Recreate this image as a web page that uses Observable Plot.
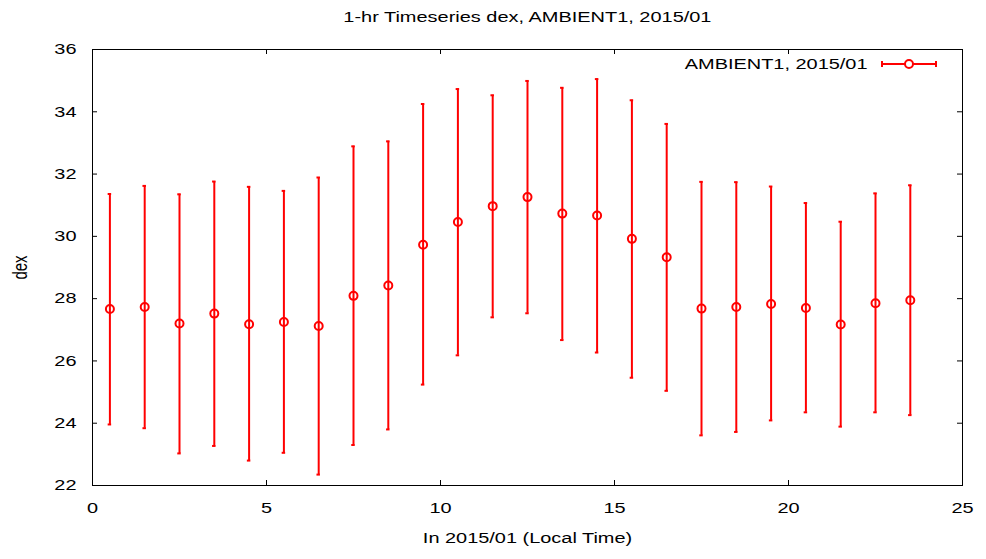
<!DOCTYPE html>
<html>
<head>
<meta charset="utf-8">
<script src="https://cdn.jsdelivr.net/npm/d3@7"></script>
<script src="https://cdn.jsdelivr.net/npm/@observablehq/plot@0.6"></script>
<style>
  html, body { margin: 0; padding: 0; background: #fff; }
  #title { height: 36px; line-height: 34px; padding-left: 92px; padding-right: 24px; text-align: center;
           font-family: "Liberation Sans", Arial, sans-serif; font-size: 15px; color: #000; box-sizing: border-box; width: 986px; }
  #title span { display: inline-block; transform: scaleX(1.33); transform-origin: center; }
</style>
</head>
<body>
<div id="title"><span>1-hr Timeseries dex, AMBIENT1, 2015/01</span></div>
<div id="chart"></div>
<script>
const hours = [0.5,1.5,2.5,3.5,4.5,5.5,6.5,7.5,8.5,9.5,10.5,11.5,12.5,13.5,14.5,15.5,16.5,17.5,18.5,19.5,20.5,21.5,22.5,23.5];
const means = [27.67,27.73,27.20,27.52,27.18,27.25,27.12,28.09,28.42,29.73,30.46,30.97,31.26,30.73,30.67,29.92,29.33,27.68,27.73,27.83,27.70,27.17,27.85,27.95];
const highs = [31.36,31.62,31.35,31.76,31.59,31.46,31.89,32.89,33.05,34.25,34.73,34.53,34.99,34.77,35.05,34.37,33.61,31.75,31.74,31.60,31.07,30.47,31.38,31.64];
const lows  = [23.96,23.84,23.03,23.27,22.80,23.05,22.35,23.30,23.80,25.24,26.18,27.40,27.53,26.67,26.27,25.46,25.04,23.61,23.72,24.09,24.35,23.89,24.35,24.26];
const xTicks = [0,5,10,15,20,25];
const yTicks = [22,24,26,28,30,32,34,36];
const seriesName = "AMBIENT1, 2015/01";
const xLabel = "In 2015/01 (Local Time)";
const yLabel = "dex";

const data = hours.map((h,i) => ({h, m: means[i], hi: highs[i], lo: lows[i]}));
const red = "#ff0000";
const W = 986, H = 559 - 36;
const mt = 13, mb = 74, ml = 92, mr = 24;
const ph = H - mt - mb, pw = W - ml - mr;
const capHalf = 0.05;
const FS = 15, STRETCH = 1.33;

const chart = Plot.plot({
  width: W, height: H,
  marginTop: mt, marginBottom: mb, marginLeft: ml, marginRight: mr,
  style: {fontFamily: "'Liberation Sans', Arial, sans-serif", fontSize: FS + "px", color: "#000", background: "#fff"},
  x: {domain: [0, 25]},
  y: {domain: [22, 36]},
  marks: [
    Plot.frame({stroke: "#000", strokeWidth: 1}),
    // inward ticks (bottom/top/left/right)
    Plot.tickX(xTicks, {x: d => d, insetTop: ph - 5, stroke: "#000"}),
    Plot.tickX(xTicks, {x: d => d, insetBottom: ph - 5, stroke: "#000"}),
    Plot.tickY(yTicks, {y: d => d, insetRight: pw - 5, stroke: "#000"}),
    Plot.tickY(yTicks, {y: d => d, insetLeft: pw - 5, stroke: "#000"}),
    Plot.axisX(xTicks, {tickSize: 0, tickPadding: 17, label: xLabel, labelAnchor: "center", labelArrow: "none", labelOffset: 57, fontSize: FS}),
    Plot.axisY(yTicks, {tickSize: 0, tickPadding: 16, label: yLabel, labelAnchor: "center", labelArrow: "none", labelOffset: 80, fontSize: FS}),
    // error bars
    Plot.ruleX(data, {x: "h", y1: "lo", y2: "hi", stroke: red, strokeWidth: 2}),
    Plot.ruleY(data, {y: "hi", x1: d => d.h - capHalf, x2: d => d.h + capHalf, stroke: red, strokeWidth: 2}),
    Plot.ruleY(data, {y: "lo", x1: d => d.h - capHalf, x2: d => d.h + capHalf, stroke: red, strokeWidth: 2}),
    Plot.dot(data, {x: "h", y: "m", r: 4, stroke: red, strokeWidth: 2, fill: "none"}),
    // legend text
    Plot.text([seriesName], {text: d => d, frameAnchor: "top-right", lineAnchor: "middle", dx: -95, dy: 15, textAnchor: "end", fontSize: FS, fill: "#000"})
  ]
});
document.getElementById("chart").appendChild(chart);

// horizontally stretch all texts around their anchor (matches the wide lettering of the reference)
d3.select(chart).selectAll("text").each(function() {
  const t = this.getAttribute("transform") || "";
  const x = parseFloat(this.getAttribute("x")) || 0;
  if (/rotate/.test(t)) {
    this.setAttribute("transform", `${t} scale(1,${STRETCH})`);
  } else {
    this.setAttribute("transform", `${t} translate(${x},0) scale(${STRETCH},1) translate(${-x},0)`);
  }
});

// legend sample (decorative key)
const svg = d3.select(chart);
const ly = mt + 15;
const lx1 = W - mr - 80, lx2 = W - mr - 26, lxc = (lx1 + lx2) / 2;
const g = svg.append("g").attr("stroke", red).attr("stroke-width", 2).attr("fill", "none");
g.append("line").attr("x1", lx1).attr("x2", lx2).attr("y1", ly).attr("y2", ly);
g.append("line").attr("x1", lx1).attr("x2", lx1).attr("y1", ly - 3).attr("y2", ly + 3);
g.append("line").attr("x1", lx2).attr("x2", lx2).attr("y1", ly - 3).attr("y2", ly + 3);
g.append("circle").attr("cx", lxc).attr("cy", ly).attr("r", 4).attr("fill", "#fff");
</script>
</body>
</html>
